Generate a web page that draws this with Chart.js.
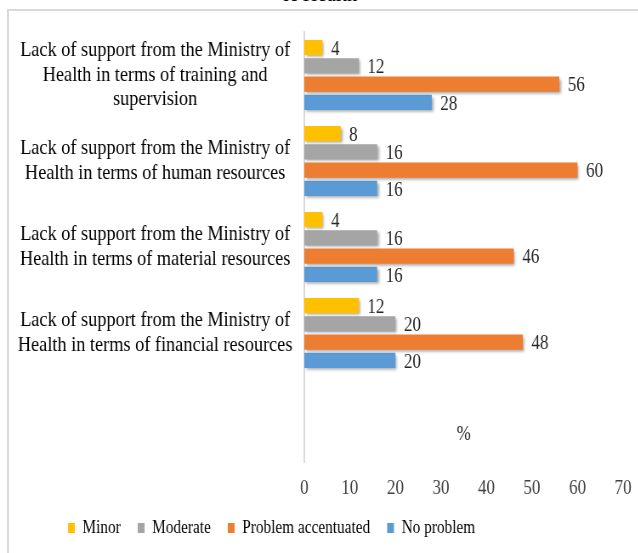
<!DOCTYPE html>
<html>
<head>
<meta charset="utf-8">
<script src="https://cdn.jsdelivr.net/npm/chart.js@4.4.1/dist/chart.umd.min.js"></script>
<style>
  html, body { margin: 0; padding: 0; background: #fff; overflow: hidden; }
  #wrap { position: relative; width: 638px; height: 553px; overflow: hidden; }
  #frame { position: absolute; left: 7px; top: 9px; width: 700px; height: 600px; border: 2px solid #d9d9d9; box-sizing: border-box; }
  #title { position: absolute; left: 0; width: 638px; top: -20px; text-align: center; font: 24px "Liberation Serif", serif; color: #000; transform: scaleX(0.85); }
  /* the original's Times text is narrow and tall, so the canvas is drawn wide and squeezed */
  canvas { position: absolute; left: 0; top: 0; transform: scaleX(0.85); transform-origin: 0 0; }
</style>
</head>
<body>
<div id="wrap">
  <div id="title">of Health</div>
  <div id="frame"></div>
  <canvas id="chart" width="751" height="553" style="width:751px;height:553px"></canvas>
</div>
<script>
    // --- Data ---
    const categories = [
        ['Lack of support from the Ministry of', 'Health in terms of training and', 'supervision'],
        ['Lack of support from the Ministry of', 'Health in terms of human resources'],
        ['Lack of support from the Ministry of', 'Health in terms of material resources'],
        ['Lack of support from the Ministry of', 'Health in terms of financial resources'],
        ''
    ];
    const seriesNames = ['Minor', 'Moderate', 'Problem accentuated', 'No problem'];
    const minorValues = [4, 8, 4, 12, null];
    const moderateValues = [12, 16, 16, 20, null];
    const accentuatedValues = [56, 60, 46, 48, null];
    const noProblemValues = [28, 16, 16, 20, null];
    const xTicks = [0, 10, 20, 30, 40, 50, 60, 70];
    const axisTitle = '%';

    const colors = ['#FFC000', '#A5A5A5', '#ED7D31', '#5B9BD5'];
    const serif = '"Liberation Serif", "Times New Roman", serif';

    // --- Plugins ---
    const barShadow = {
        id: 'barShadow',
        beforeDatasetsDraw(chart) {
            const ctx = chart.ctx;
            ctx.save();
            ctx.shadowColor = 'rgba(0,0,0,0.35)';
            ctx.shadowBlur = 3;
            ctx.shadowOffsetX = 2;
            ctx.shadowOffsetY = 2;
        },
        afterDatasetsDraw(chart) {
            chart.ctx.restore();
        }
    };

    const valueLabels = {
        id: 'valueLabels',
        afterDatasetsDraw(chart) {
            const ctx = chart.ctx;
            ctx.save();
            ctx.font = '20px ' + serif;
            ctx.fillStyle = '#262626';
            ctx.textAlign = 'left';
            ctx.textBaseline = 'middle';
            chart.data.datasets.forEach((ds, i) => {
                chart.getDatasetMeta(i).data.forEach((bar, j) => {
                    if (ds.data[j] == null) return;
                    ctx.fillText(String(ds.data[j]), bar.x + 10, bar.y + 2);
                });
            });
            // axis title sits inside the plot, as in the original
            const xs = chart.scales.x, ys = chart.scales.y;
            ctx.textAlign = 'center';
            ctx.fillText(axisTitle, xs.getPixelForValue(35), ys.getPixelForValue(4) + 16);
            ctx.restore();
        }
    };

    // legend in the original sits left of centre
    const legendShift = {
        id: 'legendShift',
        afterLayout(chart) {
            chart.legend.left -= 47;
            chart.legend.right -= 47;
        }
    };

    // --- Chart ---
    function createChart() {
        const ctx = document.getElementById('chart').getContext('2d');
        const allValues = [minorValues, moderateValues, accentuatedValues, noProblemValues];

        new Chart(ctx, {
            type: 'bar',
            data: {
                labels: categories,
                datasets: seriesNames.map((name, i) => ({
                    label: name,
                    data: allValues[i],
                    backgroundColor: colors[i],
                    borderWidth: 0,
                    categoryPercentage: 0.85,
                    barPercentage: 0.83
                }))
            },
            options: {
                indexAxis: 'y',
                responsive: false,
                animation: false,
                devicePixelRatio: 1,
                layout: { padding: { top: 32, right: 18, left: 0, bottom: 6 } },
                scales: {
                    x: {
                        min: 0, max: 70,
                        afterBuildTicks(scale) { scale.ticks = xTicks.map(v => ({ value: v })); },
                        afterFit(scale) { scale.height = 37; },
                        ticks: { color: '#404040', font: { family: serif, size: 20 }, padding: 7 },
                        grid: { display: false },
                        border: { display: false }
                    },
                    y: {
                        afterFit(scale) { scale.width = 358; },
                        ticks: {
                            color: '#000',
                            font: { family: serif, size: 21.5, lineHeight: 1.14 },
                            padding: 6, autoSkip: false, crossAlign: 'center'
                        },
                        grid: { display: false },
                        border: { display: true, color: '#d9d9d9', width: 2 }
                    }
                },
                plugins: {
                    legend: {
                        position: 'bottom',
                        labels: {
                            color: '#000',
                            font: { family: serif, size: 18 },
                            boxWidth: 8, boxHeight: 10,
                            padding: 20
                        }
                    },
                    tooltip: { enabled: false }
                }
            },
            plugins: [barShadow, valueLabels, legendShift]
        });
    }

    createChart();
</script>
</body>
</html>
